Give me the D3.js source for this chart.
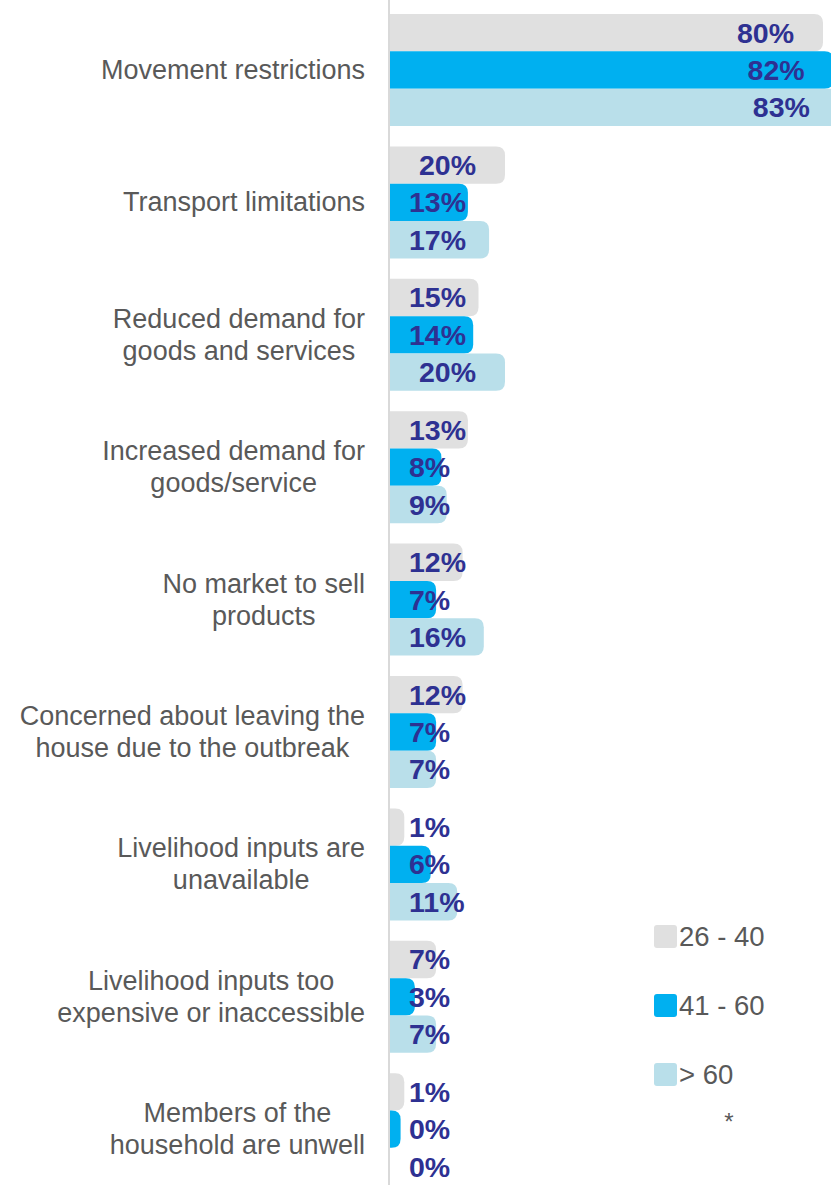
<!DOCTYPE html>
<html><head><meta charset="utf-8">
<script src="https://cdn.jsdelivr.net/npm/d3@7"></script>
<style>body{margin:0;background:#fff}svg{display:block}</style>
</head><body>
<svg id="c" width="831" height="1185"></svg>
<script>
const categories = [
  ["Movement restrictions"],
  ["Transport limitations"],
  ["Reduced demand for","goods and services"],
  ["Increased demand for","goods/service"],
  ["No market to sell","products"],
  ["Concerned about leaving the","house due to the outbreak"],
  ["Livelihood inputs are","unavailable"],
  ["Livelihood inputs too","expensive or inaccessible"],
  ["Members of the","household are unwell"]
];
const seriesNames = ["26 - 40","41 - 60","> 60"];
const age26_40 = [80,20,15,13,12,12,1,7,1];
const age41_60 = [82,13,14,8,7,7,6,3,0.3];
const age60plus = [83,17,20,9,16,7,11,7,0];
const colors = ["#E0E0E0","#00B0F0","#B9DFEA"];

const svg = d3.select("#c");
const W = 831, H = 1185;
const axisX = 388;
const x = d3.scaleLinear().domain([0,100]).range([0,530]);
const cap = 11;
const y = d3.scaleBand().domain(d3.range(categories.length)).range([14,1185.2]).paddingInner(0.154).paddingOuter(0);
const ys = d3.scaleBand().domain(d3.range(3)).range([0,y.bandwidth()]).padding(0);
const series = [age26_40, age41_60, age60plus];

function barPath(x0,y0,w,h,r){
  r = Math.min(r,w,h/2);
  return `M${x0},${y0}H${x0+w-r}Q${x0+w},${y0} ${x0+w},${y0+r}V${y0+h-r}Q${x0+w},${y0+h} ${x0+w-r},${y0+h}H${x0}Z`;
}

const g = svg.append("g");
categories.forEach((cat,i)=>{
  series.forEach((s,j)=>{
    const v = s[i];
    if(v<=0) return;
    const w = x(v)+cap;
    g.append("path").attr("d", barPath(axisX, y(i)+ys(j), w, ys.bandwidth(), 9)).attr("fill", colors[j]);
  });
});

// axis line
svg.append("line").attr("x1",axisX+1).attr("x2",axisX+1).attr("y1",0).attr("y2",H)
  .attr("stroke","#D9D9D9").attr("stroke-width",2);

// value labels
categories.forEach((cat,i)=>{
  series.forEach((s,j)=>{
    const v = s[i];
    const t = svg.append("text")
      .attr("font-family","Liberation Sans, Arial, sans-serif")
      .attr("font-weight","bold").attr("font-size",28.5).attr("fill","#2E3192")
      .attr("y", y(i)+ys(j)+ys.bandwidth()/2+10)
      .text(Math.round(v)+"%");
    const tw = t.node().getComputedTextLength();
    const end = axisX + x(v) - 18;
    t.attr("x", Math.max(409, end - tw));
  });
});

// category labels
categories.forEach((lines,i)=>{
  const cy = y(i)+y.bandwidth()/2;
  const lh = 32;
  const t = svg.append("text")
    .attr("font-family","Liberation Sans, Arial, sans-serif")
    .attr("font-size",27).attr("fill","#595959").attr("text-anchor","middle");
  const spans = lines.map((l,k)=> t.append("tspan").attr("y", cy - (lines.length-1)*lh/2 + k*lh + 9).text(l));
  const maxW = d3.max(spans, s=>s.node().getComputedTextLength());
  spans.forEach(s=>s.attr("x", 365 - maxW/2));
});

// legend
const lg = svg.append("g");
seriesNames.forEach((n,j)=>{
  const ly = 925 + j*69;
  lg.append("rect").attr("x",654).attr("y",ly).attr("width",23).attr("height",23).attr("rx",3).attr("fill",colors[j]);
  lg.append("text").attr("x",679).attr("y",ly+21)
    .attr("font-family","Liberation Sans, Arial, sans-serif").attr("font-size",27.5).attr("fill","#595959").text(n);
});
lg.append("text").attr("x",729).attr("y",1130).attr("text-anchor","middle")
  .attr("font-family","Liberation Sans, Arial, sans-serif").attr("font-size",24).attr("fill","#595959").text("*");
</script>
</body></html>
